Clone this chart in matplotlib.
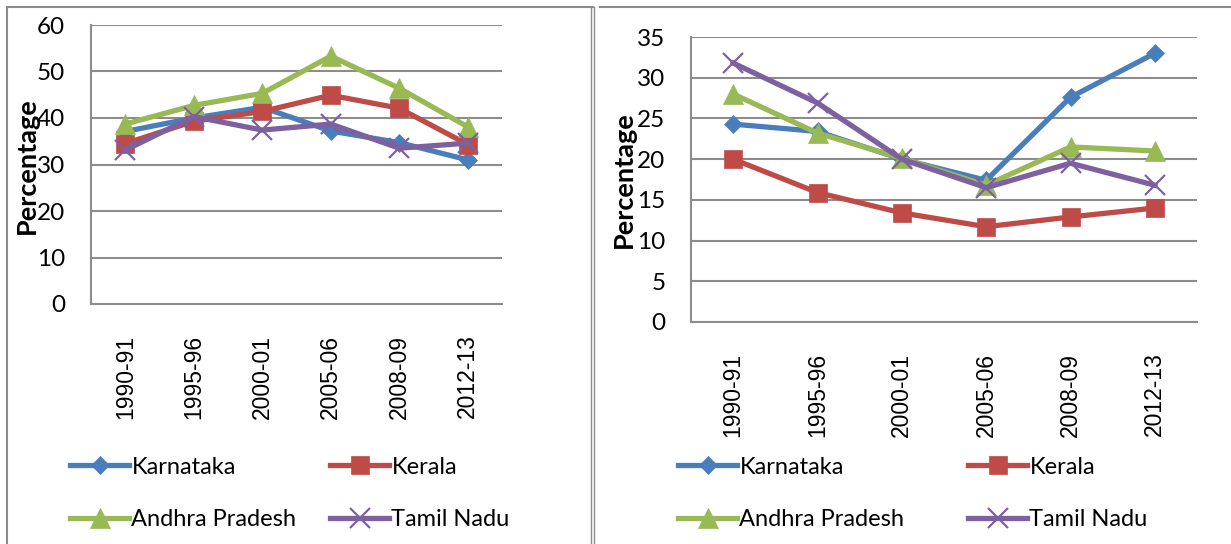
import matplotlib
matplotlib.use("Agg")
import matplotlib.pyplot as plt
from matplotlib.lines import Line2D

# Periods on the category axis
periods = ["1990-91", "1995-96", "2000-01", "2005-06", "2008-09", "2012-13"]
states = ["Karnataka", "Kerala", "Andhra Pradesh", "Tamil Nadu"]

# Left panel values (percentage)
left_karnataka = [37.1, 40.0, 42.3, 37.2, 34.7, 31.0]
left_kerala = [34.5, 39.3, 41.4, 44.9, 42.1, 34.3]
left_andhra = [38.7, 42.7, 45.3, 53.3, 46.4, 38.1]
left_tamil = [33.1, 40.3, 37.4, 38.7, 33.5, 34.6]

# Right panel values (percentage)
right_karnataka = [24.3, 23.4, 20.0, 17.4, 27.6, 33.0]
right_kerala = [20.0, 15.9, 13.4, 11.7, 12.9, 14.0]
right_andhra = [28.0, 23.2, 20.1, 16.8, 21.5, 21.0]
right_tamil = [31.8, 26.9, 20.0, 16.5, 19.5, 16.8]

colors = ["#4A7EBB", "#BE4B48", "#98B954", "#7D60A0"]
markers = ["D", "s", "^", "x"]
msizes = [9.0, 12.5, 14.0, 14.0]

W, H = 1231, 544
fig = plt.figure(figsize=(W / 100, H / 100), dpi=100)

GRID = "#8C8C8C"
TICK_FONT = "Lato"
CAT_FONT = "Liberation Sans"


def px_rect(x0, y0, x1, y1):
    return [x0 / W, 1 - y1 / H, (x1 - x0) / W, (y1 - y0) / H]


def draw_panel(rect, series, ymax, ystep, ypad, xpad):
    ax = fig.add_axes(px_rect(*rect))
    x = list(range(len(periods)))
    handles = []
    for vals, c, m, ms, name in zip(series, colors, markers, msizes, states):
        (h,) = ax.plot(x, vals, color=c, lw=3.8, marker=m, ms=ms,
                       markerfacecolor=c, markeredgecolor=c,
                       markeredgewidth=1.6 if m == "x" else 0.5,
                       label=name, solid_joinstyle="miter", zorder=3)
        handles.append(h)
    ax.set_xlim(-0.5, len(periods) - 0.5)
    ax.set_ylim(0, ymax)
    ax.set_yticks(range(0, ymax + 1, ystep))
    ax.set_xticks(x)
    ax.set_xticklabels(periods, rotation=90, fontfamily=CAT_FONT, fontsize=16.5)
    for t in ax.get_yticklabels():
        t.set_fontfamily(TICK_FONT)
        t.set_fontsize(17.5)
    ax.tick_params(axis="y", length=0, pad=ypad)
    ax.tick_params(axis="x", length=0, pad=xpad)
    ax.grid(axis="y", color=GRID, lw=1.5, zorder=0)
    ax.set_axisbelow(True)
    for s in ("top", "right"):
        ax.spines[s].set_visible(False)
    for s in ("left", "bottom"):
        ax.spines[s].set_color(GRID)
        ax.spines[s].set_linewidth(1.5)
    ax.set_ylabel("Percentage", fontfamily=TICK_FONT, fontweight="bold",
                  fontsize=19.5)
    return ax, handles


axL, hL = draw_panel((91, 25, 502, 304),
                     [left_karnataka, left_kerala, left_andhra, left_tamil],
                     60, 10, 18.5, 22)
axL.yaxis.set_label_coords((39 - 91) / 411, (304 - 166) / 279)

axR, hR = draw_panel((691, 37, 1197, 322),
                     [right_karnataka, right_kerala, right_andhra, right_tamil],
                     35, 5, 18.5, 22)
axR.yaxis.set_label_coords((636 - 691) / 506, (322 - 180) / 285)


def legend_entry(handle, x, y):
    fig.legend(handles=[handle], loc="center left",
               bbox_to_anchor=(x / W, 1 - y / H), frameon=False,
               borderaxespad=0, borderpad=0, handlelength=2.5,
               handletextpad=0.1, prop={"family": TICK_FONT, "size": 17})


# Legend entries laid out in two rows under each panel
for (hs, x0, x1) in ((hL, 70, 330), (hR, 678, 968)):
    legend_entry(hs[0], x0, 467)
    legend_entry(hs[1], x1, 467)
    legend_entry(hs[2], x0, 520)
    legend_entry(hs[3], x1, 520)


# Chart frames
def fline(xs, ys, lw=1.5):
    fig.add_artist(Line2D([v / W for v in xs], [1 - v / H for v in ys],
                          color="#8C8C8C", lw=lw,
                          transform=fig.transFigure))


fline([7, 593], [7, 7])
fline([7, 7], [7, 544])
fline([591, 591], [7, 544], lw=1.0)
fline([594, 594], [7, 544], lw=1.0)
fline([600, 1231], [7, 7])

fig.savefig("out.png", dpi=100)
